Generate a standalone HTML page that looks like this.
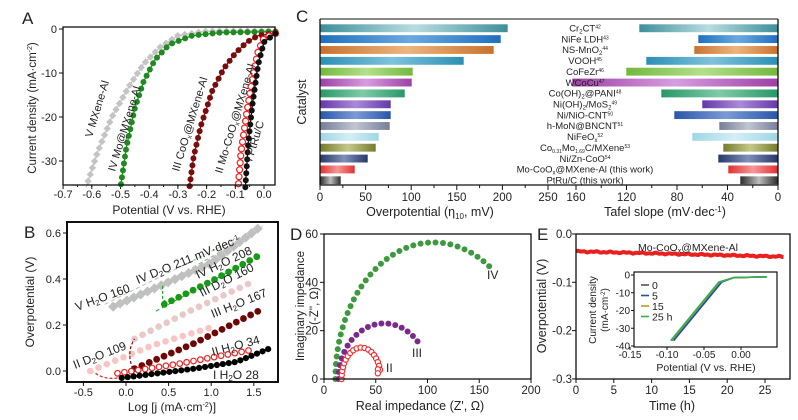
<!DOCTYPE html>
<html><head><meta charset="utf-8"><style>
html,body{margin:0;padding:0;background:#fff;}
svg{display:block;font-family:"Liberation Sans",Arial,sans-serif;}
</style></head><body>
<svg id="s" width="798" height="420" viewBox="0 0 798 420" xmlns="http://www.w3.org/2000/svg">
<defs id="defs"></defs>
</svg>
<script>
const S=document.getElementById('s'),D=document.getElementById('defs'),NS='http://www.w3.org/2000/svg';
function el(t,a,txt,p){const e=document.createElementNS(NS,t);for(const k in a)e.setAttribute(k,a[k]);if(txt!=null)e.innerHTML=txt;(p||S).appendChild(e);return e;}
function txt(x,y,s,sz,anchor,extra){return el('text',Object.assign({x:x,y:y,'font-size':sz||11,'text-anchor':anchor||'middle',fill:'#222'},extra||{}),s);}
function frame(x1,y1,x2,y2,w){el('rect',{x:x1,y:y1,width:x2-x1,height:y2-y1,fill:'none',stroke:'#111','stroke-width':w||1.3});}
function resample(pts,step){const out=[pts[0]];let acc=0;for(let i=1;i<pts.length;i++){let [x0,y0]=pts[i-1],[x1,y1]=pts[i];let d=Math.hypot(x1-x0,y1-y0),pos=0;while(acc+(d-pos)>=step){pos+=step-acc;acc=0;const t=pos/d;out.push([x0+(x1-x0)*t,y0+(y1-y0)*t]);}acc+=d-pos;}return out;}
function poly(pts,col,w,extra){el('polyline',Object.assign({points:pts.map(p=>p.join(',')).join(' '),fill:'none',stroke:col,'stroke-width':w||1},extra||{}));}
function dots(pts,col,r,open,shape){pts.forEach(p=>{if(shape==='d'){el('rect',{x:p[0]-r,y:p[1]-r,width:2*r,height:2*r,fill:col,transform:`rotate(45 ${p[0]} ${p[1]})`});}else el('circle',{cx:p[0],cy:p[1],r:r,fill:open?'#fff':col,stroke:col,'stroke-width':open?1.2:0});});}

// ===== Panel A =====
const ax=V=>264+V*287, ay=j=>29-j*4.4;
txt(22,24,'A',17,'start');
for(let i=0;i<=7;i++){const v=-0.7+i*0.1,x=ax(v);el('line',{x1:x,y1:185,x2:x,y2:189,stroke:'#111'});txt(x,198,v.toFixed(1),11);}
for(let i=0;i<14;i++){const v=-0.65+i*0.05;el('line',{x1:ax(v),y1:185,x2:ax(v),y2:187,stroke:'#111'});}
[0,-10,-20,-30].forEach(j=>{el('line',{x1:59,y1:ay(j),x2:63,y2:ay(j),stroke:'#111'});txt(57,ay(j)+4,j,11,'end');});
txt(169,214,'Potential (V vs. RHE)',12);
txt(0,0,'Current density (mA·cm<tspan dy="-4" font-size="7">-2</tspan><tspan dy="4">)</tspan>',11.5,'middle',{transform:'translate(36,108) rotate(-90)'});
const curvesA=[
 ['#c4c4c4','d',[[0.04,-0.4],[-0.2,-0.5],[-0.3,-1.5],[-0.36,-4],[-0.42,-8],[-0.47,-13],[-0.53,-20],[-0.58,-28],[-0.62,-36]]],
 ['#1f8a1f','c',[[0.04,-0.6],[-0.15,-0.8],[-0.25,-1.5],[-0.33,-3.5],[-0.38,-7],[-0.42,-12],[-0.45,-18],[-0.48,-27],[-0.50,-36]]],
 ['#7a0c0c','c',[[0.04,-1],[-0.02,-1.5],[-0.06,-3],[-0.10,-5.5],[-0.14,-9],[-0.18,-14],[-0.22,-22],[-0.245,-29],[-0.26,-36]]],
 ['#ee1c1c','o',[[0.04,-1],[0.0,-2],[-0.02,-5],[-0.04,-11],[-0.06,-19],[-0.08,-28],[-0.09,-36]]],
 ['#111','c',[[0.04,-1],[0.0,-3],[-0.02,-8],[-0.04,-17],[-0.055,-26],[-0.065,-36]]]];
curvesA.forEach(c=>{const p=c[2].map(q=>[ax(q[0]),ay(q[1])]);poly(p,c[0],1.2);dots(resample(p,7),c[0],c[1]==='d'?2.6:3,c[1]==='o',c[1]);});
frame(63,27,275,185);
[['V MXene-Al',92,138],['IV Mo@MXene-Al',115,172],['III CoO<tspan dy="2" font-size="7">x</tspan><tspan dy="-2">@MXene-Al</tspan>',179,172],['II Mo-CoO<tspan dy="2" font-size="7">x</tspan><tspan dy="-2">@MXene-Al</tspan>',222,174],['I PtRu/C',252,162]].forEach(l=>txt(0,0,l[0],11,'start',{transform:`translate(${l[1]},${l[2]}) rotate(-73)`}));

// ===== Panel C =====
txt(296,22,'C',17,'start');
const cl=v=>320+v*0.912, cr=t=>778-t*1.2625;
const bars=[
['Cr<tspan dy="2" font-size="6">2</tspan><tspan dy="-2">CT</tspan><tspan dy="-3" font-size="5">42</tspan>','#3d8f99','#b8dde0',508,639],
['NiFe LDH<tspan dy="-3" font-size="5">43</tspan>','#1f6fbf','#69a9e0',501,698],
['NS-MnO<tspan dy="2" font-size="6">2</tspan><tspan dy="-5" font-size="5">44</tspan>','#c9712e','#ecb57f',494,694],
['VOOH<tspan dy="-3" font-size="5">45</tspan>','#2a8fb5','#7fc2dc',464,646],
['CoFeZr<tspan dy="-3" font-size="5">46</tspan>','#73b83c','#b4e08a',413,626],
['WCoCu<tspan dy="-3" font-size="5">47</tspan>','#9c3fa6','#d79ddf',412,572],
['Co(OH)<tspan dy="2" font-size="6">2</tspan><tspan dy="-2">@PANI</tspan><tspan dy="-3" font-size="5">48</tspan>','#279768','#7fcaa8',405,661],
['Ni(OH)<tspan dy="2" font-size="6">2</tspan><tspan dy="-2">/MoS</tspan><tspan dy="2" font-size="6">2</tspan><tspan dy="-5" font-size="5">49</tspan>','#6437a8','#ab8ad8',391,702],
['Ni/NiO-CNT<tspan dy="-3" font-size="5">50</tspan>','#2a56a8','#7b9ad6',391,674],
['h-MoN@BNCNT<tspan dy="-3" font-size="5">51</tspan>','#767d96','#c1c5d3',390,719],
['NiFeO<tspan dy="2" font-size="6">x</tspan><tspan dy="-5" font-size="5">52</tspan>','#9fd6e6','#d4eef5',379,692],
['Co<tspan dy="2" font-size="5">0.31</tspan><tspan dy="-2">Mo</tspan><tspan dy="2" font-size="5">1.69</tspan><tspan dy="-2">C/MXene</tspan><tspan dy="-3" font-size="5">53</tspan>','#767a2c','#c3c88a',376,723],
['Ni/Zn-CoO<tspan dy="-3" font-size="5">54</tspan>','#26376a','#7e8fb8',368,718],
['Mo-CoO<tspan dy="2" font-size="6">x</tspan><tspan dy="-2">@MXene-Al (this work)</tspan>','#e03030','#f59898',355,728],
['PtRu/C (this work)','#2a2a2a','#bdbdbd',341,740]];
bars.forEach((b,i)=>{const y=28+i*10.86;const g='g'+i;
 const lg=el('linearGradient',{id:g,x1:0,x2:1,y1:0,y2:0},null,D);
 el('stop',{offset:'0','stop-color':b[1]},null,lg);el('stop',{offset:'0.5','stop-color':b[2]},null,lg);el('stop',{offset:'1','stop-color':b[1]},null,lg);
 el('rect',{x:320,y:y-4,width:b[3]-320,height:8.5,fill:`url(#${g})`,stroke:'#fff','stroke-width':0.6});
 el('rect',{x:b[4],y:y-4,width:778-b[4],height:8.5,fill:`url(#${g})`,stroke:'#fff','stroke-width':0.6});
 txt(585,y+3.5,b[0],9.5);});
el('line',{x1:320,y1:19,x2:320,y2:185,stroke:'#111','stroke-width':1.3});
el('line',{x1:778,y1:19,x2:778,y2:185,stroke:'#111','stroke-width':1.3});
el('line',{x1:320,y1:185,x2:778,y2:185,stroke:'#111','stroke-width':1.3});
el('line',{x1:320,y1:19,x2:778,y2:19,stroke:'#111','stroke-width':1});
for(let v=0;v<=250;v+=25){const x=cl(v);el('line',{x1:x,y1:185,x2:x,y2:v%50?188:190,stroke:'#111'});if(v%50==0)txt(x,201,v,11.5);}
for(let t=0;t<=160;t+=20){const x=cr(t);el('line',{x1:x,y1:185,x2:x,y2:t%40?188:190,stroke:'#111'});if(t%40==0)txt(x,201,t,11.5);}
txt(430,216,'Overpotential (η<tspan dy="3" font-size="8">10</tspan><tspan dy="-3">, mV)</tspan>',12.5);
txt(665,216,'Tafel slope (mV·dec<tspan dy="-4" font-size="8">-1</tspan><tspan dy="4">)</tspan>',12.5);
txt(0,0,'Catalyst',12.5,'middle',{transform:'translate(306,102) rotate(-90)'});

// ===== Panel B =====
txt(24,238,'B',17,'start');
const bx=l=>126+l*85.2, by=o=>371-o*230;
[-0.5,0,0.5,1.0,1.5].forEach(l=>{el('line',{x1:bx(l),y1:382,x2:bx(l),y2:386,stroke:'#111'});txt(bx(l),396,l==0?'0.0':l.toFixed(1),11);});
[0,0.2,0.4,0.6].forEach(o=>{el('line',{x1:63,y1:by(o),x2:67,y2:by(o),stroke:'#111'});txt(61,by(o)+4,o.toFixed(1),11,'end');});
txt(172,411,'Log [j (mA·cm<tspan dy="-4" font-size="7">-2</tspan><tspan dy="4">)]</tspan>',12);
txt(0,0,'Overpotential (V)',12,'middle',{transform:'translate(34,302) rotate(-90)'});
function ser(pts,col,step,r,open,shape,line){const p=pts.map(q=>[bx(q[0]),by(q[1])]);if(line)poly(p,col,1);dots(resample(p,step),col,r,open,shape);}
poly([[bx(-0.25),by(0.29)],[bx(1.6),by(0.63)]],'#a9c9a9',1,{'stroke-dasharray':'4,3'});
poly([[bx(0.35),by(0.36)],[bx(1.6),by(0.62)]],'#7cbc7c',1,{'stroke-dasharray':'4,3'});
poly([[bx(0.35),by(0.26)],[bx(1.55),by(0.5)]],'#2a9a2a',1,{'stroke-dasharray':'4,3'});
ser([[-0.15,0.28],[0.4,0.37],[1.0,0.47],[1.55,0.62]],'#c0c0c0',7.5,3.6,false,'d');
ser([[0.45,0.29],[1.0,0.39],[1.55,0.50]],'#179a17',8,3.4);
ser([[0.1,0.14],[0.8,0.27],[1.5,0.39]],'#e8c8c8',9,3.3);
ser([[-0.42,0.0],[0.3,0.11],[1.0,0.19]],'#f8c4c4',9,3.3);
ser([[0.1,0.01],[0.8,0.12],[1.55,0.26]],'#6e0606',8,3.4);
ser([[-0.1,-0.01],[0.6,0.03],[1.45,0.09]],'#ee2020',7,2.8,true);
ser([[-0.05,-0.03],[0.8,0.01],[1.3,0.04],[1.7,0.10]],'#000',6,3.1);
poly([[bx(0.43),by(0.37)],[bx(0.43),by(0.31)],[bx(0.48),by(0.30)]],'#2a9a2a',1.2,{'stroke-dasharray':'3,2'});
el('path',{d:`M${bx(0.08)},${by(0.01)} Q${bx(0.0)},${by(0.08)} ${bx(0.1)},${by(0.14)}`,fill:'none',stroke:'#8a0a0a','stroke-width':1.2,'stroke-dasharray':'3,2'});
el('path',{d:`M${bx(-0.1)},${by(-0.03)} Q${bx(-0.25)},${by(-0.04)} ${bx(-0.38)},${by(-0.005)}`,fill:'none',stroke:'#e02020','stroke-width':1.2,'stroke-dasharray':'3,2'});
frame(67,222,278,382,2);
const H='H<tspan dy="2" font-size="8">2</tspan><tspan dy="-2">O</tspan>',Dd='D<tspan dy="2" font-size="8">2</tspan><tspan dy="-2">O</tspan>';
[[`V ${H} 160`,77,311,-20],[`IV ${Dd} 211 mV·dec<tspan dy="-4" font-size="7">-1</tspan>`,138,284,-22],[`IV ${H} 208`,198,279,-25],[`III ${Dd} 160`,202,297,-27],[`III ${H} 167`,213,318,-22],[`II ${Dd} 109`,75,369,-21],[`II ${H}  34`,213,356,-15],[`I ${H} 28`,213,379,0]].forEach(l=>txt(0,0,l[0],12,'start',{transform:`translate(${l[1]},${l[2]}) rotate(${l[3]})`}));

// ===== Panel D =====
txt(290,240,'D',17,'start');
const dx=z=>324+z*1.035, dy=z=>379-z*2.417;
[0,50,100,150,200].forEach(z=>{el('line',{x1:dx(z),y1:379,x2:dx(z),y2:383,stroke:'#111'});txt(dx(z),394,z,11.5);});
[0,20,40,60].forEach(z=>{el('line',{x1:320,y1:dy(z),x2:324,y2:dy(z),stroke:'#111'});txt(318,dy(z)+4,z,11.5,'end');});
txt(420,410,'Real impedance  (Z\', Ω)',12.5);
txt(0,0,'Imaginary impedance',11.5,'middle',{transform:'translate(304,306) rotate(-90)'});
txt(0,0,'(-Z\'\', Ω)',11.5,'middle',{transform:'translate(318,306) rotate(-90)'});
function arc(cx,rx,ry,a1,step,col,r,open,tail){const p=[];for(let a=180;a>=a1;a-=1){const t=a*Math.PI/180;p.push([dx(cx+rx*Math.cos(t)),dy(ry*Math.sin(t))]);}if(tail)tail.forEach(q=>p.push([dx(q[0]),dy(q[1])]));dots(resample(p,step),col,r,open);}
arc(106,95,56.5,55,7.5,'#3c9a3c',3);
arc(58,44,23,40,7,'#7a2a8a',3);
arc(36,19,13,15,4,'#ee3030',2.6,true,[[52,4],[52,2]]);
frame(324,234,531,379,1.3);
txt(487,279,'IV',12,'start');txt(412,357,'III',12,'start');txt(386,372,'II',12,'start');

// ===== Panel E =====
txt(537,240,'E',17,'start');
const ex=t=>576+t*7.56, ey=v=>234-v*483;
[0,5,10,15,20,25].forEach(t=>{el('line',{x1:ex(t),y1:379,x2:ex(t),y2:383,stroke:'#111'});txt(ex(t),394,t,11.5);});
[[0,'0.0'],[-0.1,'-0.1'],[-0.2,'-0.2'],[-0.3,'-0.3']].forEach(v=>{el('line',{x1:572,y1:ey(v[0]),x2:576,y2:ey(v[0]),stroke:'#111'});txt(572,ey(v[0])+4,v[1],11.5,'end');});
txt(672,410,'Time (h)',12.5);
txt(0,0,'Overpotential (V)',12.5,'middle',{transform:'translate(546,306) rotate(-90)'});
{const p=[];for(let t=0;t<=27.5;t+=0.15){p.push([ex(t),ey(-0.036-0.0004*t+(Math.sin(t*7.3)+Math.sin(t*3.1))*0.0008)]);}poly(p,'#e82020',4);}
frame(576,234,790,379,1.3);
txt(738,251,'Mo-CoO<tspan dy="2" font-size="7">x</tspan><tspan dy="-2">@MXene-Al</tspan>',10.5,'end');
const ix=V=>741+V*740, iy=j=>275-j*1.775;
frame(634,272,777,347,1.2);
[[-0.15,'-0.15'],[-0.10,'-0.10'],[-0.05,'-0.05'],[0,'0.00']].forEach(v=>{el('line',{x1:ix(v[0]),y1:347,x2:ix(v[0]),y2:350,stroke:'#111'});txt(ix(v[0]),358,v[1],10);});
[0,-10,-20,-30,-40].forEach(j=>{el('line',{x1:631,y1:iy(j),x2:634,y2:iy(j),stroke:'#111'});txt(630,iy(j)+3.5,j,10,'end');});
txt(706,371,'Potential (V vs. RHE)',10.5);
txt(0,0,'Current density',10,'middle',{transform:'translate(596,310) rotate(-90)'});
txt(0,0,'(mA·cm<tspan dy="-3" font-size="6">-2</tspan><tspan dy="3">)</tspan>',10,'middle',{transform:'translate(608,310) rotate(-90)'});
[['#555',0],['#2050b0',0.002],['#b0a020',-0.001],['#30b050',-0.002]].forEach(c=>{poly([[ix(-0.093+c[1]),iy(-37)],[ix(-0.028+c[1]),iy(-4)],[ix(-0.01),iy(-1.5)],[ix(0.035),iy(-1)]],c[0],1.6);});
[['#555','0'],['#2050b0','5'],['#b0a020','15'],['#30b050','25 h']].forEach((c,i)=>{const y=285+i*10.5;el('line',{x1:641,y1:y,x2:649,y2:y,stroke:c[0],'stroke-width':1.6});txt(652,y+4,c[1],10.5,'start');});
</script>
</body></html>
